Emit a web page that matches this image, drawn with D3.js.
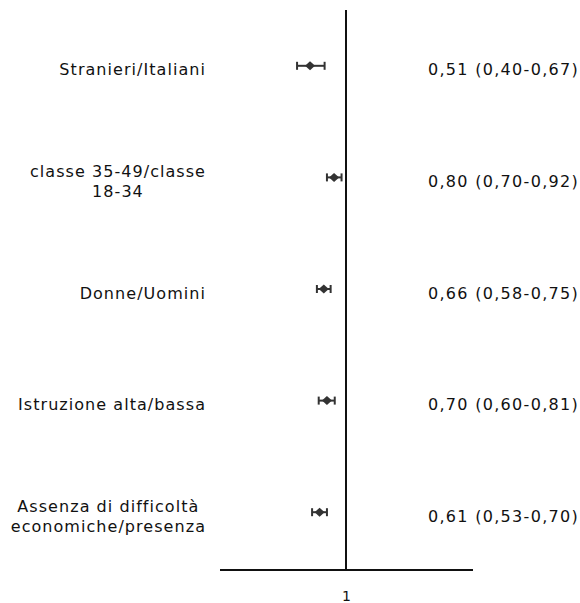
<!DOCTYPE html>
<html>
<head>
<meta charset="utf-8">
<script src="https://cdn.jsdelivr.net/npm/d3@7"></script>
<style>
  html, body { margin: 0; padding: 0; background: #fff; }
  svg text { font-family: "DejaVu Sans", Verdana, sans-serif; fill: #111; }
</style>
</head>
<body>
<svg id="chart" width="580" height="603"></svg>
<script>
// Odds ratios with 95% confidence intervals
const comparisons = [
  ["Stranieri/Italiani"],
  ["classe 35-49/classe", "18-34"],
  ["Donne/Uomini"],
  ["Istruzione alta/bassa"],
  ["Assenza di difficoltà", "economiche/presenza"]
];
const oddsRatio = [0.51, 0.80, 0.66, 0.70, 0.61];
const ciLow     = [0.40, 0.70, 0.58, 0.60, 0.53];
const ciHigh    = [0.67, 0.92, 0.75, 0.81, 0.70];
const xTicks    = [1];

const it = d3.formatLocale({decimal: ",", thousands: ".", grouping: [3], currency: ["", " €"]});
const f2 = it.format(".2f");

const svg = d3.select("#chart");
const ink = "#333";

const x = d3.scaleLog().domain([0.1, 10]).range([223, 469]);
const y = d3.scaleBand().domain(d3.range(comparisons.length)).range([10, 568]);
const yc = i => y(i) + y.bandwidth() / 2;

// reference line at OR = 1
svg.append("line")
  .attr("x1", x(1)).attr("x2", x(1))
  .attr("y1", 10).attr("y2", 570)
  .attr("stroke", "#111").attr("stroke-width", 2);

// bottom axis
const axis = svg.append("g").attr("transform", "translate(0,570)")
  .call(d3.axisBottom(x).tickValues(xTicks).tickFormat(d => d).tickSize(0).tickPadding(21));
axis.select(".domain").attr("d", "M220,0H473").attr("stroke", "#111").attr("stroke-width", 2);
axis.selectAll(".tick text").attr("font-size", 14).attr("font-family", "DejaVu Sans, Verdana, sans-serif").attr("fill", "#111");

const rows = svg.append("g").selectAll("g").data(comparisons).join("g");

// whiskers
rows.append("line")
  .attr("x1", (d, i) => x(ciLow[i])).attr("x2", (d, i) => x(ciHigh[i]))
  .attr("y1", (d, i) => yc(i)).attr("y2", (d, i) => yc(i))
  .attr("stroke", ink).attr("stroke-width", 2);
rows.selectAll("line.cap")
  .data((d, i) => [[ciLow[i], i], [ciHigh[i], i]])
  .join("line").attr("class", "cap")
  .attr("x1", d => x(d[0])).attr("x2", d => x(d[0]))
  .attr("y1", d => yc(d[1]) - 4).attr("y2", d => yc(d[1]) + 4)
  .attr("stroke", ink).attr("stroke-width", 2);

// point estimate diamonds
rows.append("path")
  .attr("d", (d, i) => {
    const cx = x(oddsRatio[i]), cy = yc(i);
    return `M${cx - 5},${cy}L${cx},${cy - 4.5}L${cx + 5},${cy}L${cx},${cy + 4.5}Z`;
  })
  .attr("fill", ink);

// value labels
rows.append("text")
  .attr("x", 428)
  .attr("y", (d, i) => yc(i) + 4)
  .attr("dominant-baseline", "central")
  .attr("font-size", 16)
  .attr("letter-spacing", 1.3)
  .text((d, i) => `${f2(oddsRatio[i])} (${f2(ciLow[i])}-${f2(ciHigh[i])})`);

// comparison labels: block right-aligned, lines centred within it
const labelRight = 206, lineH = 20;
rows.each(function(lines, i) {
  const g = d3.select(this);
  const texts = g.selectAll("text.lab").data(lines).join("text").attr("class", "lab")
    .attr("font-size", 16)
    .attr("letter-spacing", 1.05)
    .attr("text-anchor", "middle")
    .attr("dominant-baseline", "central")
    .text(d => d);
  const widths = texts.nodes().map(n => n.getComputedTextLength());
  const w = d3.max(widths);
  const cx = labelRight - w / 2;
  const top = yc(i) + 4 - (lines.length - 1) * lineH / 2;
  texts.attr("x", cx).attr("y", (d, k) => top + k * lineH);
});
</script>
</body>
</html>
